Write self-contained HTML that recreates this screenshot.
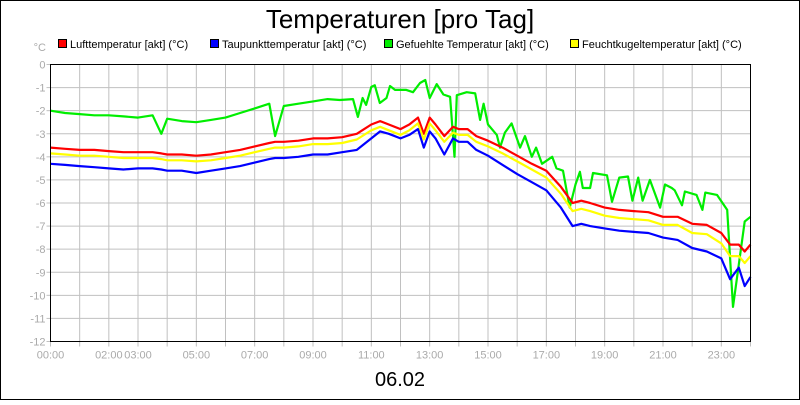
<!DOCTYPE html>
<html><head><meta charset="utf-8"><style>
body{margin:0;background:#fff}
svg text{font-family:"Liberation Sans",sans-serif}
</style></head><body>
<svg width="800" height="400" xmlns="http://www.w3.org/2000/svg">
<rect x="0.5" y="0.5" width="799" height="399" fill="#fff" stroke="#000"/>
<text x="400" y="28" font-size="26" text-anchor="middle">Temperaturen [pro Tag]</text>
<g id="legend"></g>
<text x="46" y="51" font-size="11" fill="#aaa" text-anchor="end">°C</text>
<g id="grid"></g>
<g id="axes"></g>
<g id="series"></g>
<rect x="50.5" y="64.5" width="700" height="277" fill="none" stroke="#000"/>
<text x="400" y="386" font-size="20" text-anchor="middle">06.02</text>
</svg>
<script>
const times=[0,0.5,1,1.5,2,2.5,3,3.5,3.8,4,4.5,5,5.5,6,6.5,7,7.5,7.7,8,8.5,9,9.5,10,10.5,11,11.3,11.6,12,12.3,12.6,12.8,13,13.2,13.5,13.8,14,14.3,14.6,15,15.5,16,16.5,17,17.5,17.9,18.2,18.5,19,19.5,20,20.5,21,21.5,22,22.5,23,23.3,23.6,23.8,24];
const luft=[-3.6,-3.65,-3.7,-3.7,-3.75,-3.8,-3.8,-3.8,-3.85,-3.9,-3.9,-3.95,-3.9,-3.8,-3.7,-3.55,-3.4,-3.35,-3.35,-3.3,-3.2,-3.2,-3.15,-3.0,-2.6,-2.45,-2.6,-2.8,-2.6,-2.3,-3.0,-2.3,-2.6,-3.1,-2.7,-2.8,-2.8,-3.1,-3.3,-3.6,-3.95,-4.3,-4.6,-5.3,-6.0,-5.9,-6.0,-6.2,-6.3,-6.35,-6.4,-6.6,-6.6,-6.9,-6.95,-7.3,-7.8,-7.8,-8.1,-7.8];
const feucht=[-3.85,-3.9,-3.95,-3.95,-4.0,-4.05,-4.05,-4.05,-4.1,-4.15,-4.15,-4.2,-4.15,-4.05,-3.95,-3.8,-3.65,-3.6,-3.6,-3.55,-3.45,-3.45,-3.4,-3.25,-2.85,-2.7,-2.85,-3.05,-2.85,-2.55,-3.25,-2.55,-2.85,-3.35,-2.95,-3.05,-3.05,-3.35,-3.55,-3.85,-4.2,-4.55,-4.9,-5.6,-6.35,-6.25,-6.35,-6.55,-6.65,-6.7,-6.75,-6.95,-6.95,-7.3,-7.35,-7.75,-8.3,-8.3,-8.6,-8.3];
const taupunkt=[-4.3,-4.35,-4.4,-4.45,-4.5,-4.55,-4.5,-4.5,-4.55,-4.6,-4.6,-4.7,-4.6,-4.5,-4.4,-4.25,-4.1,-4.05,-4.05,-4.0,-3.9,-3.9,-3.8,-3.7,-3.2,-2.9,-3.0,-3.2,-3.05,-2.8,-3.6,-2.9,-3.2,-3.9,-3.2,-3.35,-3.35,-3.7,-3.95,-4.35,-4.75,-5.1,-5.45,-6.2,-7.0,-6.9,-7.0,-7.1,-7.2,-7.25,-7.3,-7.5,-7.6,-7.95,-8.1,-8.4,-9.3,-8.8,-9.6,-9.2];
const gTimes=[0,0.5,1,1.5,2,2.5,3,3.5,3.8,4,4.5,5,5.5,6,6.5,7,7.5,7.7,8,8.5,9,9.5,9.92,10.37,10.54,10.7,10.82,11.0,11.12,11.29,11.52,11.64,11.81,12.2,12.43,12.67,12.85,13.0,13.24,13.47,13.7,13.85,13.93,14.27,14.56,14.73,14.85,15.0,15.3,15.41,15.58,15.81,16.1,16.27,16.5,16.65,16.85,17.2,17.35,17.57,17.8,18.0,18.15,18.25,18.5,18.6,19.08,19.25,19.5,19.8,19.95,20.15,20.3,20.55,20.9,21.07,21.3,21.4,21.65,21.75,22.15,22.35,22.45,22.85,23.2,23.4,23.8,24];
const gefuehlt=[-2.0,-2.1,-2.15,-2.2,-2.2,-2.25,-2.3,-2.2,-3.0,-2.35,-2.45,-2.5,-2.4,-2.3,-2.1,-1.9,-1.7,-3.1,-1.8,-1.7,-1.6,-1.5,-1.54,-1.5,-2.27,-1.45,-1.75,-0.97,-0.9,-1.67,-1.45,-0.93,-1.1,-1.1,-1.2,-0.8,-0.67,-1.45,-0.85,-1.3,-1.4,-4.0,-1.33,-1.2,-1.25,-2.4,-1.7,-2.6,-3.05,-3.6,-2.95,-2.55,-3.6,-3.1,-4.0,-3.6,-4.3,-4.0,-4.5,-4.6,-6.2,-5.2,-4.65,-5.35,-5.35,-4.7,-4.8,-5.95,-4.9,-4.85,-5.9,-4.9,-5.9,-5.0,-6.2,-5.2,-5.35,-5.45,-6.1,-5.5,-5.65,-6.3,-5.55,-5.65,-6.3,-10.5,-6.8,-6.6];
const yTicks=[0,-1,-2,-3,-4,-5,-6,-7,-8,-9,-10,-11,-12];
const xLabels=["00:00","02:00","03:00","05:00","07:00","09:00","11:00","13:00","15:00","17:00","19:00","21:00","23:00"];
const xLabelHours=[0,2,3,5,7,9,11,13,15,17,19,21,23];
const legendNames=["Lufttemperatur [akt] (°C)","Taupunkttemperatur [akt] (°C)","Gefuehlte Temperatur [akt] (°C)","Feuchtkugeltemperatur [akt] (°C)"];
const legendColors=["#ff0000","#0000ff","#00ee00","#ffff00"];

const NS="http://www.w3.org/2000/svg";
const X0=50.5,X1=750.5,Y0=64.5,Y1=341.5;
const xs=h=>X0+h/24*(X1-X0);
const ys=v=>Y0+(-v)/12*(Y1-Y0);
function mk(tag,attrs,parent){const e=document.createElementNS(NS,tag);for(const k in attrs)e.setAttribute(k,attrs[k]);parent.appendChild(e);return e;}
const grid=document.getElementById('grid'),axes=document.getElementById('axes'),series=document.getElementById('series'),legend=document.getElementById('legend');
for(let h=1;h<24;h++){const l=mk('line',{x1:xs(h),x2:xs(h),y1:Y0,y2:Y1,stroke:'#c0c0c0'},grid);

}
for(let h=0;h<=24;h++){const t=mk('line',{x1:xs(h),x2:xs(h),y1:Y1,y2:Y1+5,stroke:'#c0c0c0'},axes);

}
yTicks.forEach(v=>{
 if(v<0&&v>-12){const l=mk('line',{x1:X0,x2:X1,y1:ys(v),y2:ys(v),stroke:'#c0c0c0'},grid);
 
 }
 const t=mk('line',{x1:X0-4,x2:X0,y1:ys(v),y2:ys(v),stroke:'#c0c0c0'},axes);
 
 
 const tx=mk('text',{x:X0-5,y:ys(v)+4,'font-size':11,fill:'#aaa','text-anchor':'end'},axes);
 tx.textContent=String(v);
 
 
});
xLabels.forEach((s,i)=>{
 const tx=mk('text',{x:xs(xLabelHours[i]),y:Y1+17,'font-size':11,fill:'#aaa','text-anchor':'middle'},axes);
 tx.textContent=s;
 
 
});
function line(ts,vals,color,name){
 const d=vals.map((v,i)=>(i?'L':'M')+xs(ts[i]).toFixed(1)+','+ys(v).toFixed(1)).join('');
 const p=mk('path',{d:d,fill:'none',stroke:color,'stroke-width':2.2,'stroke-linejoin':'round'},series);
 
 
}
line(gTimes,gefuehlt,'#00ee00','series-gefuehlte-temperatur');
line(times,luft,'#ff0000','series-lufttemperatur');
line(times,feucht,'#ffff00','series-feuchtkugeltemperatur');
line(times,taupunkt,'#0000ff','series-taupunkttemperatur');
const lx=[58,210,384,570];
legendNames.forEach((n,i)=>{
 const g=mk('g',{},legend);
 
 
 mk('rect',{x:lx[i]+0.5,y:39.5,width:8,height:8,fill:legendColors[i],stroke:'#000'},g);
 const t=mk('text',{x:lx[i]+12,y:48,'font-size':11},g);
 t.textContent=n;
});
</script>
</body></html>
